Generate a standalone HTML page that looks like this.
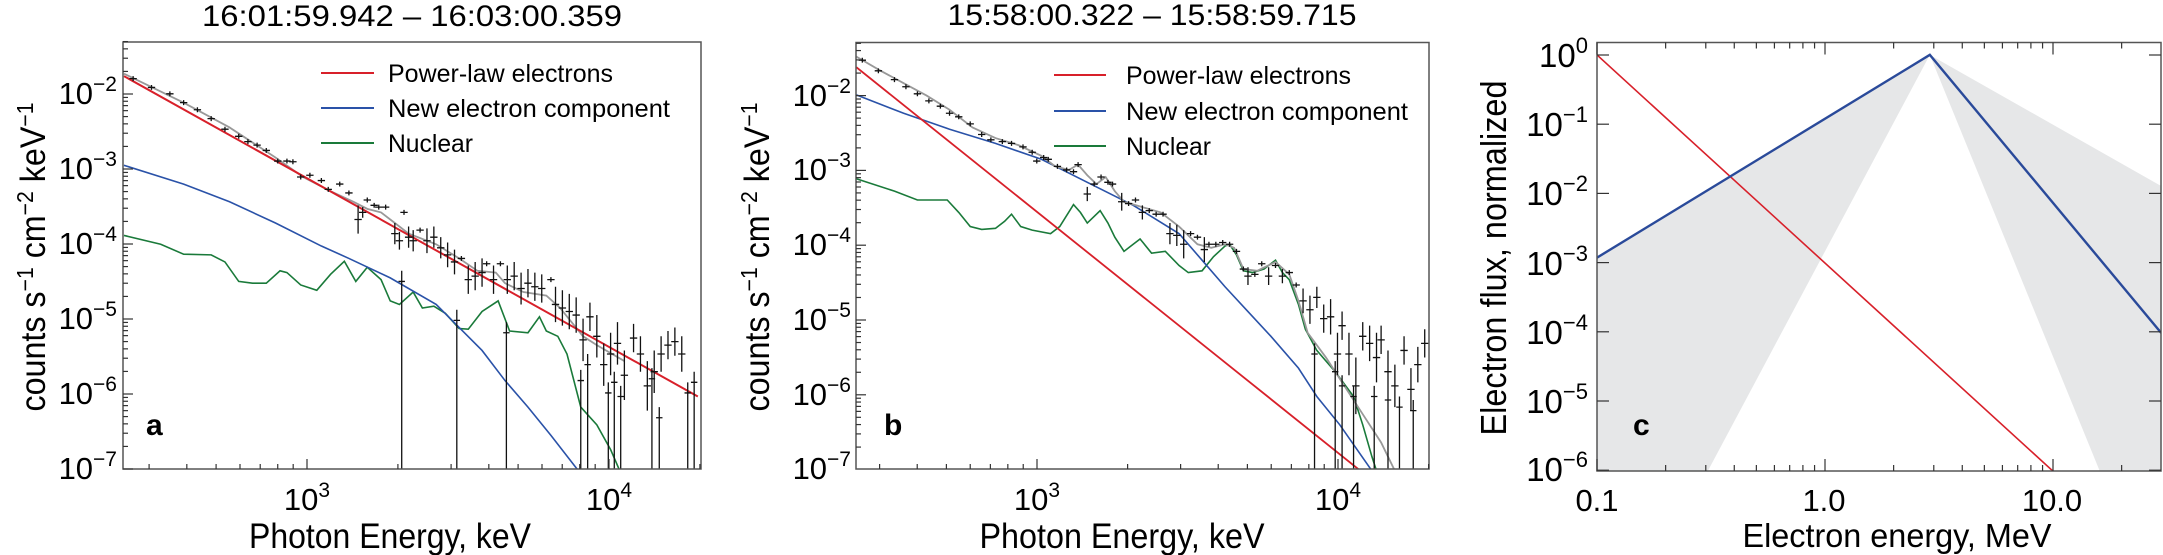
<!DOCTYPE html>
<html><head><meta charset="utf-8">
<style>
html,body{margin:0;padding:0;background:#fff;}
svg{display:block;font-family:"Liberation Sans",Arial,sans-serif;}
</style></head>
<body>
<svg id="s" width="2163" height="555" viewBox="0 0 2163 555" xmlns="http://www.w3.org/2000/svg">
<defs>
<clipPath id="ca"><rect x="123" y="42" width="578" height="427"/></clipPath>
<clipPath id="cb"><rect x="856" y="42.5" width="573" height="426.5"/></clipPath>
<clipPath id="cc"><rect x="1597" y="42.5" width="564" height="428.5"/></clipPath>
</defs>

<!-- Panel a -->
<text x="412" y="26" font-size="30" text-anchor="middle" textLength="420" lengthAdjust="spacingAndGlyphs">16:01:59.942 – 16:03:00.359</text>
<g clip-path="url(#ca)" fill="none">
<g transform="matrix(0.4591,0,0,0.354,0,0)">
<path vector-effect="non-scaling-stroke" stroke="#1a7a3a" stroke-width="1.6" d="M270,665 L350,690 L400,718 L460,720 L490,740 L520,795 L550,800 L580,800 L610,765 L625,770 L655,805 L690,820 L720,775 L750,738 L775,795 L800,755 L830,790 L850,850 L870,860 L900,825 L920,870 L945,865 L970,885 L1000,928 L1020,930 L1050,880 L1085,850 L1110,935 L1150,940 L1175,895 L1190,935 L1215,950 L1235,1000 L1265,1150 L1300,1200 L1330,1270 L1350,1330"/>
<path vector-effect="non-scaling-stroke" stroke="#2a52a8" stroke-width="1.6" d="M270,467 L400,520 L500,570 L600,630 L700,695 L760,730 L850,785 L950,860 L1000,925 L1050,990 L1100,1075 L1150,1150 L1200,1230 L1260,1330"/>
<path vector-effect="non-scaling-stroke" stroke="#999" stroke-width="1.8" d="M270,208 L400,290 L500,360 L600,445 L660,500 L720,540 L770,570 L800,590 L830,600 L860,630 L890,660 L950,690 L1000,730 L1040,765 L1080,770 L1100,800 L1140,825 L1190,835 L1220,870 L1270,950 L1300,975 L1360,1020"/>
<path vector-effect="non-scaling-stroke" stroke="#d8202a" stroke-width="2" d="M270,215 L1520,1120"/>
<path id="da" vector-effect="non-scaling-stroke" stroke="#111" stroke-width="1.3" d=""/>
</g></g>
<rect x="123" y="42" width="578" height="427" fill="none" stroke="#555" stroke-width="1.5"/>
<g id="ta" stroke="#333" stroke-width="1.2"></g>
<g font-size="31" text-anchor="end">
<text x="117" y="104">10<tspan dy="-13" font-size="21">−2</tspan></text>
<text x="117" y="179">10<tspan dy="-13" font-size="21">−3</tspan></text>
<text x="117" y="254">10<tspan dy="-13" font-size="21">−4</tspan></text>
<text x="117" y="329">10<tspan dy="-13" font-size="21">−5</tspan></text>
<text x="117" y="404">10<tspan dy="-13" font-size="21">−6</tspan></text>
<text x="117" y="479">10<tspan dy="-13" font-size="21">−7</tspan></text>
</g>
<g font-size="31" text-anchor="middle">
<text x="307" y="510">10<tspan dy="-13" font-size="21">3</tspan></text>
<text x="609" y="510">10<tspan dy="-13" font-size="21">4</tspan></text>
</g>
<text x="390" y="548" font-size="35" text-anchor="middle" textLength="282" lengthAdjust="spacingAndGlyphs">Photon Energy, keV</text>
<text transform="translate(45,257) rotate(-90)" font-size="35" text-anchor="middle" textLength="309" lengthAdjust="spacingAndGlyphs">counts s<tspan dy="-12" font-size="23">−1</tspan><tspan dy="12"> cm</tspan><tspan dy="-12" font-size="23">−2</tspan><tspan dy="12"> keV</tspan><tspan dy="-12" font-size="23">−1</tspan></text>
<text x="146" y="435" font-size="30" font-weight="bold">a</text>
<g stroke-width="2" fill="none">
<line x1="321" y1="73" x2="374" y2="73" stroke="#d8202a"/>
<line x1="321" y1="108" x2="374" y2="108" stroke="#2a52a8"/>
<line x1="321" y1="143" x2="374" y2="143" stroke="#1a7a3a"/>
</g>
<g font-size="25">
<text x="388" y="82" textLength="225" lengthAdjust="spacingAndGlyphs">Power-law electrons</text>
<text x="388" y="117" textLength="282" lengthAdjust="spacingAndGlyphs">New electron component</text>
<text x="388" y="152" textLength="85" lengthAdjust="spacingAndGlyphs">Nuclear</text>
</g>

<!-- Panel b -->
<text x="1152" y="25" font-size="30" text-anchor="middle" textLength="409" lengthAdjust="spacingAndGlyphs">15:58:00.322 – 15:58:59.715</text>
<g clip-path="url(#cb)" fill="none">
<g transform="matrix(0.4591,0,0,0.354,720,0)">
<path vector-effect="non-scaling-stroke" stroke="#1a7a3a" stroke-width="1.6" d="M297,505 L380,540 L430,565 L495,565 L520,600 L545,640 L570,648 L600,645 L620,625 L635,605 L655,640 L680,650 L720,660 L740,640 L770,578 L785,600 L800,630 L828,595 L845,630 L860,670 L880,710 L900,690 L915,675 L940,715 L970,710 L1000,750 L1020,770 L1050,765 L1075,725 L1100,695 L1110,690 L1125,720 L1140,765 L1160,770 L1185,760 L1210,735 L1225,770 L1240,790 L1260,860 L1275,930 L1300,990 L1340,1050 L1380,1120 L1400,1200 L1420,1290 L1430,1330"/>
<path vector-effect="non-scaling-stroke" stroke="#2a52a8" stroke-width="1.6" d="M297,268 L400,320 L500,365 L600,405 L700,450 L800,515 L900,580 L1000,660 L1050,735 L1100,810 L1150,880 L1200,950 L1260,1040 L1300,1120 L1350,1200 L1420,1330"/>
<path vector-effect="non-scaling-stroke" stroke="#d8202a" stroke-width="1.8" d="M297,190 L1395,1330"/>
<path vector-effect="non-scaling-stroke" stroke="#999" stroke-width="1.8" d="M297,160 L350,200 L400,235 L450,270 L500,310 L550,360 L600,390 L650,410 L700,440 L730,470 L760,480 L780,465 L800,495 L820,520 L840,500 L860,540 L880,570 L920,585 L960,600 L1000,640 L1040,690 L1070,700 L1100,690 L1120,700 L1140,760 L1170,765 L1210,740 L1240,775 L1260,850 L1280,940 L1320,1010 L1360,1090 L1400,1170 L1440,1250 L1470,1330"/>
<path id="db" vector-effect="non-scaling-stroke" stroke="#111" stroke-width="1.3" d=""/>
</g></g>
<rect x="856" y="42.5" width="573" height="426.5" fill="none" stroke="#555" stroke-width="1.5"/>
<g id="tb" stroke="#333" stroke-width="1.2"></g>
<g font-size="31" text-anchor="end">
<text x="851" y="106">10<tspan dy="-13" font-size="21">−2</tspan></text>
<text x="851" y="180">10<tspan dy="-13" font-size="21">−3</tspan></text>
<text x="851" y="255">10<tspan dy="-13" font-size="21">−4</tspan></text>
<text x="851" y="330">10<tspan dy="-13" font-size="21">−5</tspan></text>
<text x="851" y="405">10<tspan dy="-13" font-size="21">−6</tspan></text>
<text x="851" y="479">10<tspan dy="-13" font-size="21">−7</tspan></text>
</g>
<g font-size="31" text-anchor="middle">
<text x="1037" y="510">10<tspan dy="-13" font-size="21">3</tspan></text>
<text x="1338" y="510">10<tspan dy="-13" font-size="21">4</tspan></text>
</g>
<text x="1122" y="548" font-size="35" text-anchor="middle" textLength="285" lengthAdjust="spacingAndGlyphs">Photon Energy, keV</text>
<text transform="translate(769,257) rotate(-90)" font-size="35" text-anchor="middle" textLength="309" lengthAdjust="spacingAndGlyphs">counts s<tspan dy="-12" font-size="23">−1</tspan><tspan dy="12"> cm</tspan><tspan dy="-12" font-size="23">−2</tspan><tspan dy="12"> keV</tspan><tspan dy="-12" font-size="23">−1</tspan></text>
<text x="884" y="435" font-size="30" font-weight="bold">b</text>
<g stroke-width="2" fill="none">
<line x1="1054" y1="75" x2="1106" y2="75" stroke="#d8202a"/>
<line x1="1054" y1="111" x2="1106" y2="111" stroke="#2a52a8"/>
<line x1="1054" y1="146" x2="1106" y2="146" stroke="#1a7a3a"/>
</g>
<g font-size="25">
<text x="1126" y="84" textLength="225" lengthAdjust="spacingAndGlyphs">Power-law electrons</text>
<text x="1126" y="120" textLength="282" lengthAdjust="spacingAndGlyphs">New electron component</text>
<text x="1126" y="155" textLength="85" lengthAdjust="spacingAndGlyphs">Nuclear</text>
</g>

<!-- Panel c -->
<g clip-path="url(#cc)">
<g transform="matrix(0.4548,0,0,0.354,1450,0)">
<path fill="#e6e7e8" d="M323,728 L1055,155 L565,1335 L323,1335 Z"/>
<path fill="#e6e7e8" d="M1055,155 L1570,530 L1570,1335 L1430,1335 Z"/>
<path fill="none" vector-effect="non-scaling-stroke" stroke="#d8202a" stroke-width="1.6" d="M323,155 L1325,1330"/>
<path fill="none" vector-effect="non-scaling-stroke" stroke="#2a4a9a" stroke-width="2.4" d="M323,728 L1055,155 L1570,950"/>
</g></g>
<rect x="1597" y="42.5" width="564" height="428.5" fill="none" stroke="#555" stroke-width="1.5"/>
<g id="tc" stroke="#333" stroke-width="1.2"></g>
<g font-size="33" text-anchor="end">
<text x="1588" y="67">10<tspan dy="-14" font-size="22">0</tspan></text>
<text x="1588" y="136">10<tspan dy="-14" font-size="22">−1</tspan></text>
<text x="1588" y="205">10<tspan dy="-14" font-size="22">−2</tspan></text>
<text x="1588" y="275">10<tspan dy="-14" font-size="22">−3</tspan></text>
<text x="1588" y="344">10<tspan dy="-14" font-size="22">−4</tspan></text>
<text x="1588" y="413">10<tspan dy="-14" font-size="22">−5</tspan></text>
<text x="1588" y="481">10<tspan dy="-14" font-size="22">−6</tspan></text>
</g>
<g font-size="31" text-anchor="middle">
<text x="1597" y="511">0.1</text>
<text x="1824" y="511">1.0</text>
<text x="2052" y="511">10.0</text>
</g>
<text x="1897" y="547" font-size="33" text-anchor="middle" textLength="309" lengthAdjust="spacingAndGlyphs">Electron energy, MeV</text>
<text transform="translate(1506,258) rotate(-90)" font-size="36" text-anchor="middle" textLength="355" lengthAdjust="spacingAndGlyphs">Electron flux, normalized</text>
<text x="1633" y="435" font-size="30" font-weight="bold">c</text>
</svg>
<script>
(function(){
var NS="http://www.w3.org/2000/svg";
function ln(g,x1,y1,x2,y2){var l=document.createElementNS(NS,"line");l.setAttribute("x1",x1);l.setAttribute("y1",y1);l.setAttribute("x2",x2);l.setAttribute("y2",y2);g.appendChild(l);}
function ab(id,x0,dx,ex,y0,dy,L,R,T,B,Lmin,Lmax,Fmin,Fmax){
 var g=document.getElementById(id),k,d,p;
 for(d=Lmin;d<=Lmax;d++)for(k=1;k<10;k++){var v=d+Math.log10(k);p=x0+dx*(v-ex);if(p<L-0.5||p>R+0.5)continue;ln(g,p,B,p,B-(k==1?10:5));}
 for(d=Fmin;d<=Fmax;d++)for(k=1;k<10;k++){var v=d+Math.log10(k);p=y0-dy*(v-Fmin+ (0));}
 for(d=Fmin;d<=Fmax;d++)for(k=1;k<10;k++){var v=d+Math.log10(k);p=y0-dy*(v+2);if(p<T-0.5||p>B+0.5)continue;ln(g,L,p,L+(k==1?10:5),p);}
}
ab("ta",307,302,3,94,75,123,701,42,469,2,4,-7,-2);
ab("tb",1037,301,3,95.6,74.8,856,1429,42.5,469,2,4,-7,-2);
var g=document.getElementById("tc"),d,k,p;
for(d=-1;d<=1;d++)for(k=1;k<10;k++){p=1597+228*(d+1+Math.log10(k));if(p>2161)continue;var s=k==1?12:6;ln(g,p,471,p,471-s);ln(g,p,42.5,p,42.5+s);}
for(d=-6;d<=0;d++){p=55-69.2*d;ln(g,1597,p,1609,p);ln(g,2161,p,2149,p);}
function bars(id,pts,longs,bot){var s="";pts.forEach(function(q){var e=q[2]||7;s+="M"+(q[0]-8)+","+q[1]+"h16M"+q[0]+","+(q[1]-e)+"v"+(2*e);});longs.forEach(function(q){s+="M"+q[0]+","+q[1]+"V"+bot+"M"+(q[0]-7)+","+(q[1]+30)+"h14";});document.getElementById(id).setAttribute("d",s);}
bars("da",[[290,222],[330,247],[370,265],[400,290],[430,310],[460,335],[490,365],[520,385],[540,400],[560,410],[580,425],[605,455],[625,455],[638,457],[655,500],[675,495],[700,510],[715,535],[740,520],[760,545],[780,620,40],[790,600,15],[800,565],[815,580],[825,585],[840,585],[860,660,30],[870,680,25],[880,600],[890,670,30],[900,680,30],[915,650],[930,680,35],[945,670,30],[960,700,30],[975,720,35],[990,740,35],[1005,730],[1020,790,40],[1035,780,40],[1050,770,40],[1060,745],[1075,790,40],[1090,745],[1105,790,40],[1120,780,40],[1135,815,45],[1150,800,40],[1165,810,40],[1180,815,40],[1200,790],[1210,860,50],[1225,870,50],[1240,880,50],[1255,890,50],[1270,960,60],[1285,895,40],[1300,950,60],[1315,1030,60],[1330,1000,60],[1345,970,60],[1360,1060,70],[1380,955,40],[1395,1000,50],[1410,1090,70],[1425,1050,60],[1440,1000,50],[1455,975,40],[1470,965,40],[1485,1000,50]],
[[875,765],[995,875],[1103,910],[1265,1045],[1280,1000],[1325,1080],[1338,1050],[1352,1090],[1420,1040],[1436,1150],[1498,1080],[1512,1050]],1330);
bars("db",[[310,170],[345,200],[380,225],[405,245],[430,265],[455,285],[480,300],[500,320],[520,330],[545,350],[570,380],[590,395],[615,400],[635,405],[660,415],[680,430],[690,455],[705,445],[715,450],[735,470],[755,480],[770,485],[780,465],[800,548,20],[815,520],[830,500],[845,515],[855,520],[875,570,25],[890,575],[905,565],[920,600,20],[935,595],[950,605],[965,605],[980,660,30],[995,665,30],[1010,690,40],[1025,660],[1040,670],[1055,705,35],[1065,690],[1080,690],[1095,685],[1110,690],[1125,710],[1140,760],[1150,780,25],[1165,775],[1180,745],[1195,780,25],[1210,750],[1225,780,20],[1240,770],[1255,805],[1270,850,35],[1285,875,40],[1300,840,30],[1315,900,40],[1330,895,50],[1345,1000,60],[1355,920,40],[1370,1000,60],[1385,1090,80],[1400,950,40],[1415,970,50],[1430,1010,70],[1440,960,40],[1455,1050,60],[1470,1090,60],[1490,990,40],[1505,1100,60],[1520,1030,50],[1535,970,40]],
[[1295,970],[1340,1020],[1355,1060],[1380,1090],[1425,1090],[1455,1100],[1480,1120],[1510,1130]],1330);
})();
</script>
</body></html>
